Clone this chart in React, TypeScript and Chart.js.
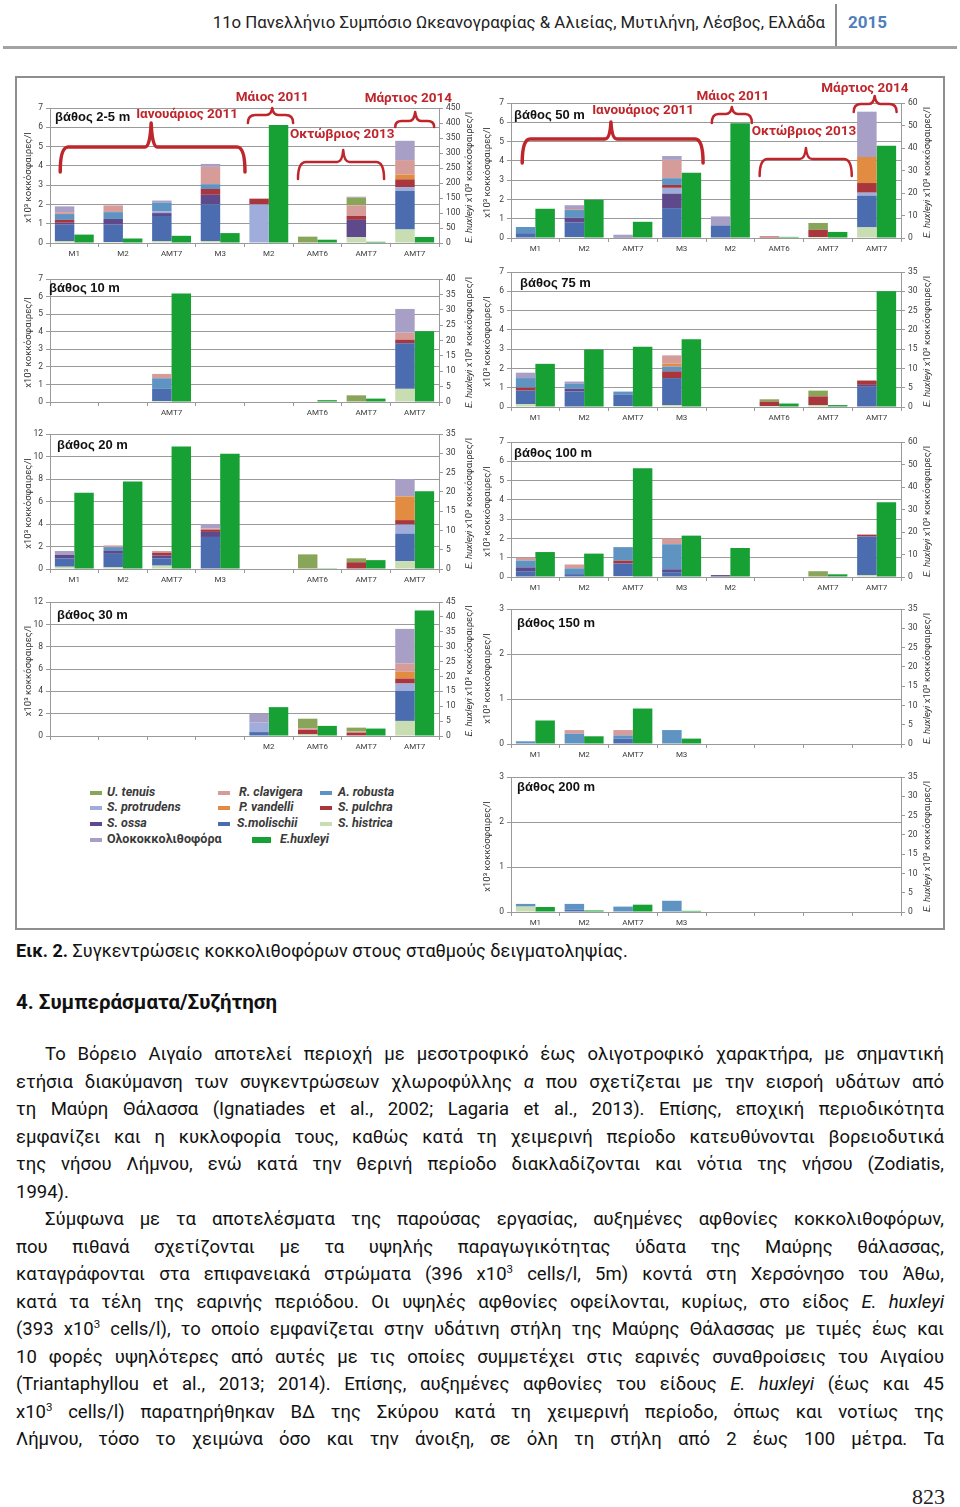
import React, { useEffect, useRef } from "react";
import { Chart, registerables } from "chart.js";

Chart.register(...registerables);

const FONT = "Roboto, 'Noto Sans', sans-serif";
Chart.defaults.font.family = FONT;

// ---------- species (stack order bottom -> top) ----------
const SPECIES = [
  "S. histrica",
  "S.molischii",
  "S. ossa",
  "S. protrudens",
  "S. pulchra",
  "A. robusta",
  "P. vandelli",
  "R. clavigera",
  "U. tenuis",
  "Ολοκοκκολιθοφόρα",
];
const SPECIES_COLORS = [
  "#c8ddb1",
  "#4b6db0",
  "#5e4a8a",
  "#a0addb",
  "#a8363c",
  "#5e93c2",
  "#e28c42",
  "#d69c99",
  "#88a55a",
  "#a89fc7",
];
const HUX_LABEL = "E.huxleyi";
const HUX_COLOR = "#17a034";

// ---------- categories ----------
const CATS_ALL = ["M1", "M2", "AMT7", "M3", "M2", "AMT6", "AMT7", "AMT7"];
const CATS_10 = ["", "", "AMT7", "", "", "AMT6", "AMT7", "AMT7"];
const CATS_20 = ["M1", "M2", "AMT7", "M3", "", "AMT6", "AMT7", "AMT7"];
const CATS_30 = ["", "", "", "", "M2", "AMT6", "AMT7", "AMT7"];
const CATS_75 = ["M1", "M2", "AMT7", "M3", "", "AMT6", "AMT7", "AMT7"];
const CATS_100 = ["M1", "M2", "AMT7", "M3", "M2", "", "AMT7", "AMT7"];
const CATS_DEEP = ["M1", "M2", "AMT7", "M3", "", "", "", ""];

// ---------- 2-5 m ----------
const SP_2_5 = [
  [0.1, 0.05, 0.1, 0.1, 0, 0, 0.3, 0.7],
  [0.85, 0.9, 1.3, 1.9, 0, 0, 0, 2.0],
  [0.1, 0.3, 0.15, 0.5, 0, 0, 0.9, 0],
  [0, 0, 0.1, 0, 2.0, 0, 0, 0.2],
  [0.15, 0, 0, 0.3, 0.3, 0, 0.2, 0.4],
  [0.3, 0.35, 0.45, 0.25, 0, 0, 0, 0],
  [0, 0, 0, 0, 0, 0, 0, 0.25],
  [0.1, 0.35, 0, 0.9, 0, 0, 0.55, 0.75],
  [0, 0, 0, 0, 0, 0.33, 0.4, 0],
  [0.3, 0, 0.1, 0.15, 0, 0, 0.05, 1.0],
];
const HUX_2_5 = [28, 15, 24, 33, 393, 11, 4, 20];

// ---------- 10 m ----------
const SP_10 = [
  [0, 0, 0.05, 0, 0, 0, 0, 0.75],
  [0, 0, 0.7, 0, 0, 0, 0, 2.6],
  [0, 0, 0, 0, 0, 0, 0, 0],
  [0, 0, 0, 0, 0, 0, 0, 0],
  [0, 0, 0, 0, 0, 0, 0, 0.2],
  [0, 0, 0.6, 0, 0, 0, 0, 0],
  [0, 0, 0, 0, 0, 0, 0, 0],
  [0, 0, 0.25, 0, 0, 0, 0, 0.4],
  [0, 0, 0, 0, 0, 0, 0.38, 0],
  [0, 0, 0, 0, 0, 0, 0, 1.35],
];
const HUX_10 = [0, 0, 35.3, 0, 0, 0.6, 1.1, 23];

// ---------- 20 m ----------
const SP_20 = [
  [0.2, 0.15, 0.3, 0, 0, 0, 0, 0.7],
  [0.75, 1.2, 0.65, 2.85, 0, 0, 0, 2.45],
  [0.3, 0.25, 0.25, 0.45, 0, 0, 0, 0],
  [0, 0, 0, 0, 0, 0, 0, 0.8],
  [0, 0, 0.25, 0.2, 0, 0, 0.6, 0.4],
  [0, 0.35, 0, 0, 0, 0, 0, 0],
  [0, 0, 0, 0, 0, 0, 0, 2.1],
  [0, 0.15, 0.15, 0.1, 0, 0, 0, 0],
  [0, 0, 0, 0, 0, 1.3, 0.35, 0],
  [0.35, 0, 0, 0.4, 0, 0, 0, 1.55],
];
const HUX_20 = [19.8, 22.7, 31.8, 29.9, 0, 0.2, 2.3, 20.2];

// ---------- 30 m ----------
const SP_30 = [
  [0, 0, 0, 0, 0, 0.15, 0.05, 1.35],
  [0, 0, 0, 0, 0.35, 0, 0, 2.7],
  [0, 0, 0, 0, 0, 0, 0, 0],
  [0, 0, 0, 0, 0.85, 0, 0, 0.65],
  [0, 0, 0, 0, 0, 0.4, 0.25, 0.45],
  [0, 0, 0, 0, 0, 0, 0, 0],
  [0, 0, 0, 0, 0, 0, 0, 0.6],
  [0, 0, 0, 0, 0, 0.15, 0.1, 0.75],
  [0, 0, 0, 0, 0, 0.85, 0.35, 0],
  [0, 0, 0, 0, 0.8, 0, 0, 3.1],
];
const HUX_30 = [0, 0, 0, 0, 9.7, 3.4, 2.5, 42.2];

// ---------- 50 m ----------
const SP_50 = [
  [0, 0.05, 0, 0, 0, 0, 0.05, 0.55],
  [0.25, 0.75, 0, 1.55, 0.65, 0, 0, 1.65],
  [0, 0.25, 0.05, 0.75, 0, 0, 0, 0],
  [0, 0, 0, 0.3, 0, 0, 0, 0.15],
  [0, 0, 0, 0.15, 0, 0.08, 0.37, 0.5],
  [0.32, 0.4, 0, 0.35, 0, 0, 0, 0],
  [0, 0, 0, 0, 0, 0, 0, 1.35],
  [0, 0.05, 0, 0.95, 0, 0, 0, 0],
  [0, 0, 0, 0, 0, 0, 0.36, 0],
  [0, 0.2, 0.12, 0.2, 0.47, 0, 0, 2.35],
];
const HUX_50 = [13, 17, 7.2, 29, 51, 0.5, 2.7, 41];

// ---------- 75 m ----------
const SP_75 = [
  [0.15, 0, 0.05, 0.1, 0, 0.05, 0.1, 0],
  [0.7, 0.8, 0.6, 1.4, 0, 0, 0, 1.05],
  [0, 0.15, 0, 0, 0, 0, 0, 0.1],
  [0, 0, 0, 0, 0, 0, 0, 0],
  [0.15, 0, 0, 0.35, 0, 0.23, 0.45, 0.2],
  [0.5, 0.25, 0.15, 0.25, 0, 0, 0, 0],
  [0, 0, 0, 0.15, 0, 0, 0, 0],
  [0, 0, 0, 0.43, 0, 0, 0, 0.05],
  [0, 0, 0, 0, 0, 0.12, 0.3, 0],
  [0.28, 0.12, 0, 0, 0, 0, 0, 0],
];
const HUX_75 = [11.2, 14.9, 15.6, 17.6, 0, 0.9, 0.5, 30];

// ---------- 100 m ----------
const SP_100 = [
  [0, 0, 0.05, 0, 0, 0, 0, 0.1],
  [0.3, 0.15, 0.65, 0.25, 0, 0, 0, 2.0],
  [0.2, 0, 0, 0.15, 0.1, 0, 0, 0],
  [0, 0, 0, 0, 0, 0, 0, 0],
  [0, 0, 0.15, 0, 0, 0, 0, 0.1],
  [0.35, 0.3, 0.7, 1.3, 0, 0, 0, 0],
  [0, 0, 0, 0, 0, 0, 0, 0],
  [0.15, 0.2, 0, 0.3, 0, 0, 0, 0],
  [0, 0, 0, 0, 0, 0, 0.3, 0],
  [0, 0, 0, 0, 0, 0, 0, 0],
];
const HUX_100 = [11.1, 10.4, 48.4, 18.4, 12.9, 0, 1.2, 33.2];

// ---------- 150 m ----------
const SP_150 = [
  [0, 0, 0, 0, 0, 0, 0, 0],
  [0, 0, 0.12, 0, 0, 0, 0, 0],
  [0, 0, 0, 0, 0, 0, 0, 0],
  [0, 0, 0, 0, 0, 0, 0, 0],
  [0, 0, 0, 0, 0, 0, 0, 0],
  [0.06, 0.23, 0.07, 0.31, 0, 0, 0, 0],
  [0, 0, 0, 0, 0, 0, 0, 0],
  [0, 0.08, 0.12, 0, 0, 0, 0, 0],
  [0, 0, 0, 0, 0, 0, 0, 0],
  [0, 0, 0, 0, 0, 0, 0, 0],
];
const HUX_150 = [6.1, 2.0, 9.2, 1.4, 0, 0, 0, 0];

// ---------- 200 m ----------
const SP_200 = [
  [0.12, 0, 0, 0, 0, 0, 0, 0],
  [0, 0.05, 0, 0, 0, 0, 0, 0],
  [0, 0, 0, 0, 0, 0, 0, 0],
  [0, 0, 0, 0, 0, 0, 0, 0],
  [0, 0, 0, 0, 0, 0, 0, 0],
  [0.06, 0.13, 0.12, 0.25, 0, 0, 0, 0],
  [0, 0, 0, 0, 0, 0, 0, 0],
  [0, 0, 0, 0, 0, 0, 0, 0],
  [0, 0, 0, 0, 0, 0, 0, 0],
  [0, 0, 0, 0, 0, 0, 0, 0],
];
const HUX_200 = [1.3, 0.4, 1.9, 0.3, 0, 0, 0, 0];

// ---------- annotation labels ----------
const PERIODS = ["Ιανουάριος 2011", "Μάιος 2011", "Οκτώβριος 2013", "Μάρτιος 2014"];
const LEFT_TITLE = "x10³ κοκκόσφαιρες/l";
const RIGHT_TITLE_A = "E. huxleyi";
const RIGHT_TITLE_B = " x10³ κοκκόσφαιρες/l";

// ---------- layout (positions, not data) ----------
const BRACKETS_A = [
  { t: 0, from: -0.29, to: 3.51, peak: 1.58, tx: 2.32, yLine: 39, yEnd: 64, yPeak: 15, yText: 7, lw: 3.5 },
  { t: 1, from: 3.57, to: 4.5, peak: 4.07, tx: 4.07, yLine: 7, yEnd: 15, yPeak: 0, yText: -10, lw: 2.5 },
  { t: 2, from: 4.6, to: 6.37, peak: 5.53, tx: 5.51, yLine: 54, yEnd: 71, yPeak: 42, yText: 27, lw: 2.5 },
  { t: 3, from: 6.6, to: 7.4, peak: 7.01, tx: 6.87, yLine: 13, yEnd: 19, yPeak: 4, yText: -9, lw: 2.5 },
];
const BRACKETS_B = [
  { t: 0, from: -0.27, to: 3.44, peak: 1.55, tx: 2.21, yLine: 36, yEnd: 60, yPeak: 19, yText: 8, lw: 3.5 },
  { t: 1, from: 3.62, to: 4.44, peak: 4.03, tx: 4.05, yLine: 11, yEnd: 20, yPeak: 4, yText: -6, lw: 2.5 },
  { t: 2, from: 4.6, to: 6.49, peak: 5.55, tx: 5.51, yLine: 56, yEnd: 73, yPeak: 45, yText: 29, lw: 2.5 },
  { t: 3, from: 6.53, to: 7.41, peak: 6.96, tx: 6.76, yLine: 1, yEnd: 9, yPeak: -7, yText: -14, lw: 2.5 },
];

const COLS: any = {
  L: { canvasLeft: 15, canvasW: 468, yW: 35, y1W: 44, lOff: 21, rOff: 31 },
  R: { canvasLeft: 483, canvasW: 462, yW: 28, y1W: 44, lOff: 23, rOff: 27 },
};

const CHARTS: any[] = [
  { title: "βάθος 2-5 m", cats: CATS_ALL, sp: SP_2_5, hux: HUX_2_5, lMax: 7, lStep: 1, rMax: 450, rStep: 50, col: "L", top: 108, bottom: 243, dx: 5, dy: 9, padTop: 26, br: BRACKETS_A },
  { title: "βάθος 10 m", cats: CATS_10, sp: SP_10, hux: HUX_10, lMax: 7, lStep: 1, rMax: 40, rStep: 5, col: "L", top: 279, bottom: 402, dx: -1, dy: 9, padTop: 8 },
  { title: "βάθος 20 m", cats: CATS_20, sp: SP_20, hux: HUX_20, lMax: 12, lStep: 2, rMax: 35, rStep: 5, col: "L", top: 434, bottom: 569, dx: 7, dy: 11, padTop: 8 },
  { title: "βάθος 30 m", cats: CATS_30, sp: SP_30, hux: HUX_30, lMax: 12, lStep: 2, rMax: 45, rStep: 5, col: "L", top: 602, bottom: 736, dx: 7, dy: 13, padTop: 8 },
  { title: "βάθος 50 m", cats: CATS_ALL, sp: SP_50, hux: HUX_50, lMax: 7, lStep: 1, rMax: 60, rStep: 10, col: "R", top: 103, bottom: 238, dx: 3, dy: 12, padTop: 26, br: BRACKETS_B },
  { title: "βάθος 75 m", cats: CATS_75, sp: SP_75, hux: HUX_75, lMax: 7, lStep: 1, rMax: 35, rStep: 5, col: "R", top: 272, bottom: 407, dx: 9, dy: 11, padTop: 8 },
  { title: "βάθος 100 m", cats: CATS_100, sp: SP_100, hux: HUX_100, lMax: 7, lStep: 1, rMax: 60, rStep: 10, col: "R", top: 442, bottom: 577, dx: 3, dy: 11, padTop: 8 },
  { title: "βάθος 150 m", cats: CATS_DEEP, sp: SP_150, hux: HUX_150, lMax: 3, lStep: 1, rMax: 35, rStep: 5, col: "R", top: 609, bottom: 744, dx: 6, dy: 14, padTop: 8 },
  { title: "βάθος 200 m", cats: CATS_DEEP, sp: SP_200, hux: HUX_200, lMax: 3, lStep: 1, rMax: 35, rStep: 5, col: "R", top: 777, bottom: 912, dx: 6, dy: 10, padTop: 8 },
];

const GRID = "#9a9a9a";
const TICK_COLOR = "#3c3c3c";
const RED = "#bf262c";
const X_AXIS_H = 18;
const PAD_BOTTOM = 2;

function drawBrace(ctx: CanvasRenderingContext2D, x0: number, x1: number, xp: number, yl: number, ye: number, yp: number) {
  const r = Math.min(8, (x1 - x0) / 6);
  ctx.beginPath();
  ctx.moveTo(x0, ye);
  ctx.quadraticCurveTo(x0, yl, x0 + r, yl);
  ctx.lineTo(xp - 6, yl);
  ctx.quadraticCurveTo(xp - 1, yl, xp, yp);
  ctx.quadraticCurveTo(xp + 1, yl, xp + 6, yl);
  ctx.lineTo(x1 - r, yl);
  ctx.quadraticCurveTo(x1, yl, x1, ye);
  ctx.stroke();
}

function makeDecor(cfg: any, col: any) {
  return {
    id: "decor",
    afterDraw(chart: any) {
      const { ctx, chartArea: a, scales } = chart;
      const cy = (a.top + a.bottom) / 2 + 2;
      // left axis title
      ctx.save();
      ctx.fillStyle = "#333";
      ctx.textBaseline = "middle";
      ctx.textAlign = "center";
      ctx.font = `9.5px ${FONT}`;
      ctx.translate(a.left - col.lOff, cy);
      ctx.rotate(-Math.PI / 2);
      ctx.fillText(LEFT_TITLE, 0, 0);
      ctx.restore();
      // right axis title (mixed italic)
      ctx.save();
      ctx.translate(a.right + col.rOff, cy);
      ctx.rotate(-Math.PI / 2);
      const f1 = `italic 9.5px ${FONT}`;
      const f2 = `9.5px ${FONT}`;
      ctx.font = f1;
      const w1 = ctx.measureText(RIGHT_TITLE_A).width;
      ctx.font = f2;
      const w2 = ctx.measureText(RIGHT_TITLE_B).width;
      const sx = -(w1 + w2) / 2;
      ctx.fillStyle = "#333";
      ctx.textBaseline = "middle";
      ctx.textAlign = "left";
      ctx.font = f1;
      ctx.fillText(RIGHT_TITLE_A, sx, 0);
      ctx.font = f2;
      ctx.fillText(RIGHT_TITLE_B, sx + w1, 0);
      ctx.restore();
      // depth title
      ctx.save();
      ctx.font = "bold 13px 'Liberation Sans', Arial, sans-serif";
      ctx.fillStyle = "#111";
      ctx.textBaseline = "middle";
      ctx.textAlign = "left";
      ctx.fillText(cfg.title, a.left + cfg.dx, a.top + cfg.dy);
      ctx.restore();
      // period brackets
      if (cfg.br) {
        const xs = scales.x;
        ctx.save();
        ctx.strokeStyle = RED;
        ctx.fillStyle = RED;
        ctx.lineCap = "round";
        ctx.lineJoin = "round";
        for (const b of cfg.br) {
          ctx.lineWidth = b.lw;
          drawBrace(
            ctx,
            xs.getPixelForValue(b.from),
            xs.getPixelForValue(b.to),
            xs.getPixelForValue(b.peak),
            a.top + b.yLine,
            a.top + b.yEnd,
            a.top + b.yPeak
          );
          ctx.font = `bold 13.5px ${FONT}`;
          ctx.textAlign = "center";
          ctx.textBaseline = "middle";
          ctx.fillText(PERIODS[b.t], xs.getPixelForValue(b.tx), a.top + b.yText);
        }
        ctx.restore();
      }
    },
  };
}

function DepthChart({ cfg }: { cfg: any }) {
  const ref = useRef<HTMLCanvasElement>(null);
  const col = COLS[cfg.col];
  const h = cfg.padTop + (cfg.bottom - cfg.top) + X_AXIS_H + PAD_BOTTOM;
  const canvasTop = cfg.top - cfg.padTop;
  useEffect(() => {
    const tickFont = { size: 8.5, family: FONT };
    const datasets: any[] = SPECIES.map((name, i) => ({
      label: name,
      data: cfg.sp[i],
      backgroundColor: SPECIES_COLORS[i],
      yAxisID: "y",
      stack: "sp",
      barPercentage: 1,
      categoryPercentage: 0.8,
      borderWidth: 0,
    }));
    datasets.push({
      label: HUX_LABEL,
      data: cfg.hux,
      backgroundColor: HUX_COLOR,
      yAxisID: "y1",
      stack: "hx",
      barPercentage: 1,
      categoryPercentage: 0.8,
      borderWidth: 0,
    });
    const chart = new Chart(ref.current as HTMLCanvasElement, {
      type: "bar",
      data: { labels: cfg.cats, datasets },
      options: {
        responsive: false,
        animation: false,
        layout: { padding: { top: cfg.padTop, bottom: PAD_BOTTOM, left: 0, right: 0 } },
        plugins: { legend: { display: false }, tooltip: { enabled: false }, title: { display: false } },
        scales: {
          x: {
            stacked: true,
            grid: { display: true, drawOnChartArea: false, drawTicks: true, tickLength: 4, color: GRID, offset: true },
            border: { display: true, color: GRID, width: 1 },
            ticks: { font: { size: 8, family: FONT }, color: TICK_COLOR, padding: 2, autoSkip: false, maxRotation: 0 },
            afterFit: (s: any) => {
              s.height = X_AXIS_H;
            },
          },
          y: {
            position: "left",
            stacked: true,
            min: 0,
            max: cfg.lMax,
            ticks: { stepSize: cfg.lStep, font: tickFont, color: TICK_COLOR, padding: 3 },
            grid: { color: GRID, tickLength: 4, lineWidth: 1 },
            border: { display: true, color: GRID },
            afterFit: (s: any) => {
              s.width = col.yW;
            },
          },
          y1: {
            position: "right",
            min: 0,
            max: cfg.rMax,
            ticks: { stepSize: cfg.rStep, font: tickFont, color: TICK_COLOR, padding: 3 },
            grid: { drawOnChartArea: false, color: GRID, tickLength: 4 },
            border: { display: true, color: GRID },
            afterFit: (s: any) => {
              s.width = col.y1W;
            },
          },
        },
      } as any,
      plugins: [makeDecor(cfg, col)],
    });
    return () => chart.destroy();
  }, []);
  return (
    <canvas
      ref={ref}
      width={col.canvasW}
      height={h}
      style={{ position: "absolute", left: col.canvasLeft, top: canvasTop, width: col.canvasW, height: h }}
    />
  );
}

// ---------- legend layout ----------
const LEGEND_ITEMS = [
  { i: 8, sx: 90, tx: 107, y: 793 },
  { i: 3, sx: 90, tx: 107, y: 808 },
  { i: 2, sx: 90, tx: 107, y: 824 },
  { i: 9, sx: 90, tx: 107, y: 840 },
  { i: 7, sx: 218, tx: 239, y: 793 },
  { i: 6, sx: 218, tx: 239, y: 808 },
  { i: 1, sx: 218, tx: 237, y: 824 },
  { i: 5, sx: 320, tx: 338, y: 793 },
  { i: 4, sx: 320, tx: 338, y: 808 },
  { i: 0, sx: 320, tx: 338, y: 824 },
];

const BODY_FONT = "Roboto, 'Noto Sans', sans-serif";

function Sup({ c }: { c: string }) {
  return <span style={{ fontSize: "0.62em", verticalAlign: "0.6em", lineHeight: 0 }}>{c}</span>;
}

const BODY_LINES: { c: React.ReactNode; indent?: boolean; last?: boolean }[] = [
  { c: "Το Βόρειο Αιγαίο αποτελεί περιοχή με μεσοτροφικό έως ολιγοτροφικό χαρακτήρα, με σημαντική", indent: true },
  { c: <>ετήσια διακύμανση των συγκεντρώσεων χλωροφύλλης <i>α</i> που σχετίζεται με την εισροή υδάτων από</> },
  { c: "τη Μαύρη Θάλασσα (Ignatiades et al., 2002; Lagaria et al., 2013). Επίσης, εποχική περιοδικότητα" },
  { c: "εμφανίζει και η κυκλοφορία τους, καθώς κατά τη χειμερινή περίοδο κατευθύνονται βορειοδυτικά" },
  { c: "της νήσου Λήμνου, ενώ κατά την θερινή περίοδο διακλαδίζονται και νότια της νήσου (Zodiatis," },
  { c: "1994).", last: true },
  { c: "Σύμφωνα με τα αποτελέσματα της παρούσας εργασίας, αυξημένες αφθονίες κοκκολιθοφόρων,", indent: true },
  { c: "που πιθανά σχετίζονται με τα υψηλής παραγωγικότητας ύδατα της Μαύρης θάλασσας," },
  { c: <>καταγράφονται στα επιφανειακά στρώματα (396 x10<Sup c="3" /> cells/l, 5m) κοντά στη Χερσόνησο του Άθω,</> },
  { c: <>κατά τα τέλη της εαρινής περιόδου. Οι υψηλές αφθονίες οφείλονται, κυρίως, στο είδος <i>E. huxleyi</i></> },
  { c: <>(393 x10<Sup c="3" /> cells/l), το οποίο εμφανίζεται στην υδάτινη στήλη της Μαύρης Θάλασσας με τιμές έως και</> },
  { c: "10 φορές υψηλότερες από αυτές με τις οποίες συμμετέχει στις εαρινές συναθροίσεις του Αιγαίου" },
  { c: <>(Triantaphyllou et al., 2013; 2014). Επίσης, αυξημένες αφθονίες του είδους <i>E. huxleyi</i> (έως και 45</> },
  { c: <>x10<Sup c="3" /> cells/l) παρατηρήθηκαν ΒΔ της Σκύρου κατά τη χειμερινή περίοδο, όπως και νοτίως της</> },
  { c: "Λήμνου, τόσο το χειμώνα όσο και την άνοιξη, σε όλη τη στήλη από 2 έως 100 μέτρα. Τα" },
];

export default function App() {
  return (
    <div style={{ position: "absolute", left: 0, top: 0, width: 960, height: 1507, background: "#fff", overflow: "hidden", color: "#111" }}>
      {/* running header */}
      <div style={{ position: "absolute", left: 0, width: 825, top: 10, textAlign: "right", font: `16.8px ${BODY_FONT}`, color: "#222", whiteSpace: "nowrap", lineHeight: "24px" }}>
        11ο Πανελλήνιο Συμπόσιο Ωκεανογραφίας &amp; Αλιείας, Μυτιλήνη, Λέσβος, Ελλάδα
      </div>
      <div style={{ position: "absolute", left: 835, top: 4, width: 2, height: 42, background: "#8a8a8a" }} />
      <div style={{ position: "absolute", left: 848, top: 10, font: `bold 17px ${BODY_FONT}`, color: "#4f7fb9", lineHeight: "24px" }}>2015</div>
      <div style={{ position: "absolute", left: 3, top: 46, width: 954, height: 3, background: "#a3a3a3" }} />

      {/* figure frame */}
      <div style={{ position: "absolute", left: 15, top: 76, width: 930, height: 854, boxSizing: "border-box", border: "2px solid #8e8e8e" }} />

      {CHARTS.map((c, k) => (
        <DepthChart key={k} cfg={c} />
      ))}

      {/* legend */}
      {LEGEND_ITEMS.map((it, k) => (
        <React.Fragment key={k}>
          <div style={{ position: "absolute", left: it.sx, top: it.y - 2, width: 12, height: 4, background: SPECIES_COLORS[it.i] }} />
          <div
            style={{
              position: "absolute",
              left: it.tx,
              top: it.y - 9,
              lineHeight: "18px",
              font: `${it.i === 9 ? "" : "italic "}bold 12.5px ${BODY_FONT}`,
              color: "#3a3a3a",
              whiteSpace: "nowrap",
            }}
          >
            {SPECIES[it.i]}
          </div>
        </React.Fragment>
      ))}
      <div style={{ position: "absolute", left: 252, top: 837, width: 19, height: 6, background: HUX_COLOR }} />
      <div style={{ position: "absolute", left: 280, top: 831, lineHeight: "18px", font: `italic bold 12.5px ${BODY_FONT}`, color: "#3a3a3a", whiteSpace: "nowrap" }}>
        {HUX_LABEL}
      </div>

      {/* caption */}
      <div style={{ position: "absolute", left: 16, top: 940, lineHeight: "26px", font: `18px ${BODY_FONT}`, whiteSpace: "nowrap" }}>
        <b>Εικ. 2.</b> Συγκεντρώσεις κοκκολιθοφόρων στους σταθμούς δειγματοληψίας.
      </div>
      {/* heading */}
      <div style={{ position: "absolute", left: 16, top: 990, lineHeight: "28px", font: `bold 20.5px ${BODY_FONT}`, whiteSpace: "nowrap" }}>
        4. Συμπεράσματα/Συζήτηση
      </div>
      {/* body */}
      {BODY_LINES.map((l, k) => (
        <div
          key={k}
          style={{
            position: "absolute",
            left: 16,
            width: 928,
            top: 1057 + 27.5 * k - 14,
            height: 28,
            lineHeight: "28px",
            font: `18.5px ${BODY_FONT}`,
            textAlign: l.last ? "left" : "justify",
            textAlignLast: l.last ? "left" : "justify",
            textIndent: l.indent ? 29 : 0,
            whiteSpace: "nowrap",
            color: "#111",
          }}
        >
          {l.c}
        </div>
      ))}
      {/* page number */}
      <div style={{ position: "absolute", right: 15, top: 1484, lineHeight: "26px", font: "22px 'Liberation Serif', 'DejaVu Serif', serif", color: "#222" }}>823</div>
    </div>
  );
}
